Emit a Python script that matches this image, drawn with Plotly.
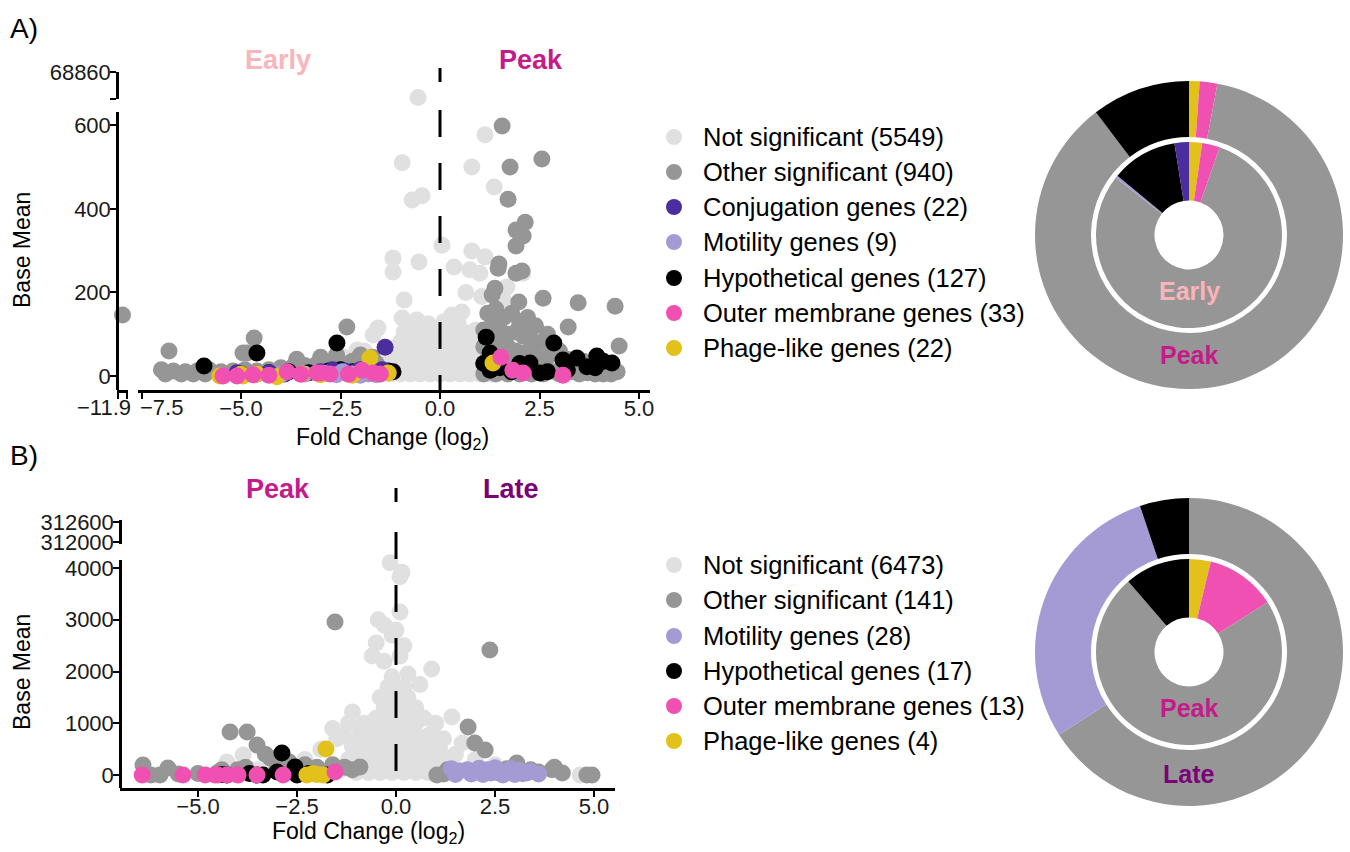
import plotly.graph_objects as go

W, H = 1350, 852
FONT = "Liberation Sans, Arial, sans-serif"

# ---------------- colours ----------------
C_NS = "#E0E0E0"
C_OTH = "#969696"
C_CONJ = "#4B2D9F"
C_MOT = "#A59BD4"
C_HYP = "#000000"
C_OM = "#F050B2"
C_PH = "#E2C11B"
C_EARLY = "#FBB4B9"
C_PEAK = "#C51B8A"
C_LATE = "#7A0177"

# ---------------- Panel A data (Early vs Peak) ----------------
A_ns_fc = [-1.5, -1.25, -1.0, -0.75, -0.5, -0.25, 0.0, 0.25, 0.5, 0.75, 1.0, 1.25,
           -1.6, -1.35, -1.1, -0.85, -0.6, -0.35, -0.1, 0.15, 0.4, 0.65, 0.9, 1.15,
           -1.4, -1.1, -0.8, -0.5, -0.2, 0.1, 0.4, 0.7, 1.0,
           -1.2, -0.9, -0.6, -0.3, 0.0, 0.3, 0.6, 0.9,
           -1.0, -0.7, -0.4, -0.1, 0.2, 0.5, 0.8,
           -0.9, -0.6, -0.3, 0.0, 0.3, 0.6, 0.9,
           -0.6, -0.3, 0.1, 0.45,
           -0.95, -0.58, -1.56, -1.68, 0.30, 0.55, -0.25, -2.08, -0.9, 0.75, 1.0,
           0.8, 1.13, 0.35, -0.53, -1.18, -1.18, 0.05, -0.70, -0.45, 1.36, -0.95,
           0.80, 1.13, 1.68, 2.08, 0.65, 1.05, 1.6, -1.8, -2.2, 1.4, -2.4, -1.9]
A_ns_bm = [5, 5, 5, 5, 5, 5, 5, 5, 5, 5, 5, 5,
           18, 18, 18, 18, 18, 18, 18, 18, 18, 18, 18, 18,
           30, 30, 30, 30, 30, 30, 30, 30, 30,
           55, 55, 55, 55, 55, 55, 55, 55,
           80, 80, 80, 80, 80, 80, 80,
           105, 105, 105, 105, 105, 105, 110,
           130, 125, 130, 130,
           139, 134, 115, 98, 146, 153, 117, 62, 182, 254, 246,
           299, 285, 261, 273, 282, 249, 313, 421, 431, 452, 510,
           500, 577, 213, 246, 200, 190, 180, 15, 25, 10, 45, 60]
A_ns_top_fc = [-0.55]
A_ns_top_bm = [68050]

A_oth_fc = [1.56, 1.76, 2.56, 1.71, 2.14, 1.91, 2.09, 1.91, 1.48, 1.46, 1.91, 2.06, 1.38, 1.31,
            1.98, 2.59, 3.47, 4.40, 3.22, 4.5, 2.26,
            1.2, 1.4, 1.6, 1.8, 2.0, 2.2, 2.4, 2.7,
            1.1, 1.3, 1.5, 1.7, 1.9, 2.1, 2.3, 2.5, 2.8, 3.0,
            1.1, 1.3, 1.5, 1.7, 1.9, 2.1, 2.4, 2.7, 3.2, 3.6, 4.0, 4.3,
            1.1, 1.3, 1.5, 1.7, 2.0, 2.3, 2.6, 2.9, 3.3, 3.7, 4.1, 4.45,
            1.1, 1.4, 1.7, 2.0, 2.3, 2.6, 3.0, 3.5, 3.9, 4.3,
            -2.34, -4.67, -4.95, -6.81, -4.85,
            -7.0, -6.7, -6.4, -6.1, -5.8, -5.5, -5.2, -4.9, -4.6, -4.3, -4.0, -3.7,
            -3.4, -3.1, -2.8, -2.5, -2.2, -1.9, -1.6, -1.7, -2.0, -6.9, -6.5, -6.2, -5.9,
            -3.6, -3.0, -2.6]
A_oth_bm = [598, 500, 519, 423, 368, 349, 335, 311, 268, 258, 246, 251, 210, 194,
            177, 186, 175, 167, 117, 72, 110,
            150, 160, 140, 150, 130, 140, 120, 100,
            110, 120, 110, 100, 105, 95, 85, 80, 70, 60,
            70, 80, 75, 70, 60, 55, 50, 45, 40, 35, 30, 20,
            30, 40, 35, 30, 25, 20, 15, 10, 10, 8, 5, 10,
            5, 5, 5, 5, 5, 5, 5, 5, 5, 5,
            117, 91, 55, 60, 55,
            15, 12, 10, 12, 15, 10, 12, 15, 12, 15, 20, 22,
            25, 28, 30, 32, 35, 38, 30, 45, 50, 5, 5, 5, 5,
            40, 45, 50]
A_oth_far_fc = [-11.9]
A_oth_far_bm = [146]

A_hyp_fc = [-2.59, -4.6, -5.93, -1.18, -5.0, -4.3, -3.8, -3.3, -2.8, -2.5, -2.2, -1.9, -1.5, -1.3,
            1.16, 1.26, 2.86, 3.94, 3.09, 3.44, 4.32, 2.26, 2.51, 1.26, 3.69, 1.5, 1.8, 2.0,
            2.7, 3.2, 4.1, 3.9, 1.1]
A_hyp_bm = [79, 55, 24, 10, 5, 8, 10, 8, 12, 15, 10, 12, 8, 12,
            93, 55, 79, 48, 38, 43, 31, 31, 7, 14, 22, 20, 10, 30,
            10, 15, 35, 20, 30]
A_conj_fc = [-1.38, -4.6, -4.3, -3.0, -2.7, -2.4, -2.2, -2.0, -1.75, -1.55, -1.45, -3.9, -5.1]
A_conj_bm = [69, 5, 8, 10, 15, 12, 8, 15, 12, 10, 15, 5, 8]
A_mot_fc = [-2.6, -2.45, -2.2, -3.4, -2.0, -1.8, -4.0, -2.9, -1.6]
A_mot_bm = [3, 10, 5, 5, 2, 5, 3, 6, 3]
A_ph_fc = [-5.53, -4.95, -4.6, -4.1, -3.47, -1.76, -1.3, -5.0, -3.0, -2.2, 1.33]
A_ph_bm = [0, 0, 5, -2, 5, 43, 7, 4, 3, 2, 31]
A_om_fc = [-5.45, -5.1, -3.84, -3.0, -1.96, -1.68, -1.5, -3.1, -2.76, -4.3, -4.7, -2.3, -3.5,
           1.53, 1.83, 2.09, 3.09]
A_om_bm = [0, 0, 10, 7, 14, 7, 5, 7, 5, 2, 3, 4, 4,
           45, 14, 7, 2]

# ---------------- Panel B data (Peak vs Late) ----------------
B_ns_fc = [-1.0, -0.7, -0.4, -0.1, 0.2, 0.5, 0.8, 1.1,
           -1.4, -1.1, -0.8, -0.5, -0.2, 0.1, 0.4, 0.7, 1.0, 1.3,
           -1.3, -0.9, -0.5, -0.2, 0.2, 0.6, 1.0, 1.3,
           -1.2, -0.9, -0.6, -0.3, 0.0, 0.3, 0.6, 0.9, 1.2,
           -0.7, -0.3, 0.1, 0.4, 0.8, -1.0, 1.1,
           -1.1, -0.8, -0.5, -0.2, 0.1, 0.4, 0.7, 1.0,
           -0.6, -0.2, 0.2, 0.6, -1.3, -0.7, -0.3, 0.1, 0.5, 0.8,
           -0.9, 0.9, -0.4, 0.0, 0.4, -0.8, 0.2, 0.5, 1.0,
           -0.5, -0.1, 0.3, 0.7, -0.3, 0.1, 0.5,
           -0.4, 0.0, 0.3, -0.2, 0.2, 0.6, -0.1, 0.3, 0.9,
           -0.3, 0.1, -0.5, -0.1, 0.2, -0.3, 0.0, 0.1, -0.15, 0.1, 0.15,
           -1.6, -1.5, -1.9, -2.3, -2.7, -3.1, -3.5, -4.27, -3.86, 1.41, 1.67, 1.5, 2.0,
           2.5, 3.0, 4.65, -6.09, 3.3, -1.2, 1.2, -0.45, -0.6, -1.1]
B_ns_bm = [50, 50, 50, 50, 50, 50, 50, 50,
           100, 100, 100, 100, 100, 100, 100, 100, 100, 100,
           150, 200, 200, 200, 200, 200, 200, 250,
           300, 300, 300, 300, 300, 300, 300, 300, 300,
           400, 400, 400, 400, 400, 450, 500,
           550, 550, 550, 550, 550, 550, 550, 550,
           650, 650, 650, 650, 750, 750, 750, 750, 750, 750,
           800, 800, 900, 900, 900, 1000, 1000, 1000, 1000,
           1100, 1100, 1100, 1100, 1300, 1300, 1300,
           1500, 1500, 1500, 1700, 1700, 1750, 1900, 1950, 2050,
           2200, 2300, 2550, 2700, 2500, 2900, 2800, 3150, 4100, 3830, 3920,
           900, 700, 500, 300, 200, 150, 100, 251, 386, 1121, 618, 400, 300,
           200, 150, 0, 0, 50, 1000, 700, 3000, 2300, 1220]
B_ns_top_fc = [0.0]
B_ns_top_bm = [312720]

B_oth_fc = [-6.39, -5.76, -5.96, -4.19, -3.76, -3.51, -3.18, -1.54, -0.91, -6.2, -5.5, -5.0,
            -4.5, -4.0, -3.0, -2.7, -2.3, -2.0, -1.6, -1.3, -1.1, -2.9, -3.3, -4.4, -3.8,
            1.82, 1.99, 2.25, 3.05, 3.94, 4.82, 1.03, 2.37, 1.2, 1.5, 2.0, 2.6, 3.2, 3.6,
            4.0, 4.2, 4.95, 1.3, 2.8, 3.4]
B_oth_bm = [193, 135, 0, 831, 831, 580, 329, 2956, 155, 0, 20, 30,
            50, 100, 150, 250, 200, 150, 200, 150, 100, 300, 400, 100, 150,
            928, 618, 483, 232, 100, 0, 0, 2415, 20, 30, 60, 40, 30, 60,
            150, 40, 0, 100, 120, 100]
B_mot_fc = [1.4, 1.6, 1.8, 2.0, 2.1, 2.3, 2.4, 2.5, 2.6, 2.8, 2.9, 3.1, 3.3, 3.4, 3.6,
            1.5, 1.9, 2.2, 2.7, 3.0]
B_mot_bm = [120, 80, 100, 60, 130, 100, 40, 140, 80, 60, 120, 90, 40, 70, 20,
            10, 20, 10, 0, 10]
B_hyp_fc = [-2.88, -2.55, -2.5, -3.36, -3.51, -4.27, -1.74, -3.7, -3.0, -4.4, -2.2, 2.05]
B_hyp_bm = [425, 155, 0, 0, 0, 0, 0, 30, 60, 10, 30, 90]
B_ph_fc = [-1.77, -2.25, -2.0, -1.84, -2.1]
B_ph_bm = [502, 0, 10, 0, 30]
B_om_fc = [-6.41, -5.38, -4.82, -4.57, -4.5, -4.27, -3.99, -3.51, -2.85, -1.54, -4.0]
B_om_bm = [0, 0, 0, 0, 0, 0, 0, 0, 0, 58, 5]

# ---------------- legends ----------------
A_legend_labels = ["Not significant (5549)", "Other significant (940)", "Conjugation genes (22)",
                   "Motility genes (9)", "Hypothetical genes (127)", "Outer membrane genes (33)",
                   "Phage-like genes (22)"]
A_legend_colors = [C_NS, C_OTH, C_CONJ, C_MOT, C_HYP, C_OM, C_PH]
B_legend_labels = ["Not significant (6473)", "Other significant (141)", "Motility genes (28)",
                   "Hypothetical genes (17)", "Outer membrane genes (13)", "Phage-like genes (4)"]
B_legend_colors = [C_NS, C_OTH, C_MOT, C_HYP, C_OM, C_PH]

# ---------------- donut data (clockwise from 12 o'clock) ----------------
A_early_cats = ["Phage-like", "Outer membrane", "Other significant", "Motility", "Hypothetical", "Conjugation"]
A_early_vals = [20, 27, 705, 4, 101, 22]
A_early_cols = [C_PH, C_OM, C_OTH, C_MOT, C_HYP, C_CONJ]
A_peak_cats = ["Phage-like", "Outer membrane", "Other significant", "Hypothetical"]
A_peak_vals = [3, 5, 235, 28]
A_peak_cols = [C_PH, C_OM, C_OTH, C_HYP]
B_peak_cats = ["Phage-like", "Outer membrane", "Other significant", "Hypothetical"]
B_peak_vals = [4, 13, 77, 12]
B_peak_cols = [C_PH, C_OM, C_OTH, C_HYP]
B_late_cats = ["Other significant", "Motility", "Hypothetical"]
B_late_vals = [64, 28, 5]
B_late_cols = [C_OTH, C_MOT, C_HYP]


def px(p):
    return p / W


def py(p):
    return 1 - p / H


fig = go.Figure()
MS = 17


def add_pts(xs, ys, color, xa, ya):
    fig.add_trace(go.Scatter(x=xs, y=ys, mode="markers", xaxis=xa, yaxis=ya,
                             marker=dict(color=color, size=MS, line=dict(width=0)),
                             cliponaxis=False, showlegend=False, hoverinfo="skip"))


# Panel A points
add_pts(A_ns_fc, A_ns_bm, C_NS, "x2", "y")
add_pts(A_ns_top_fc, A_ns_top_bm, C_NS, "x2", "y2")
add_pts(A_oth_fc, A_oth_bm, C_OTH, "x2", "y")
add_pts(A_oth_far_fc, A_oth_far_bm, C_OTH, "x", "y")
add_pts(A_hyp_fc, A_hyp_bm, C_HYP, "x2", "y")
add_pts(A_conj_fc, A_conj_bm, C_CONJ, "x2", "y")
add_pts(A_mot_fc, A_mot_bm, C_MOT, "x2", "y")
add_pts(A_ph_fc, A_ph_bm, C_PH, "x2", "y")
add_pts(A_om_fc, A_om_bm, C_OM, "x2", "y")

# Panel B points
add_pts(B_ns_fc, B_ns_bm, C_NS, "x3", "y3")
add_pts(B_ns_top_fc, B_ns_top_bm, C_NS, "x3", "y4")
add_pts(B_oth_fc, B_oth_bm, C_OTH, "x3", "y3")
add_pts(B_hyp_fc, B_hyp_bm, C_HYP, "x3", "y3")
add_pts(B_mot_fc, B_mot_bm, C_MOT, "x3", "y3")
add_pts(B_ph_fc, B_ph_bm, C_PH, "x3", "y3")
add_pts(B_om_fc, B_om_bm, C_OM, "x3", "y3")


# Donuts
def add_pie(cats, vals, cols, cx, cy, r, hole):
    fig.add_trace(go.Pie(labels=cats, values=vals, sort=False, direction="clockwise", rotation=0,
                         hole=hole, textinfo="none", hoverinfo="skip", showlegend=False,
                         marker=dict(colors=cols, line=dict(width=0)),
                         domain=dict(x=[px(cx - r), px(cx + r)], y=[py(cy + r), py(cy - r)])))


add_pie(A_peak_cats, A_peak_vals, A_peak_cols, 1189, 235, 154, 98 / 154)
add_pie(A_early_cats, A_early_vals, A_early_cols, 1189, 235, 93, 34.5 / 93)
add_pie(B_late_cats, B_late_vals, B_late_cols, 1189, 652, 154, 98 / 154)
add_pie(B_peak_cats, B_peak_vals, B_peak_cols, 1189, 652, 93, 34.5 / 93)

axis_common = dict(showgrid=False, zeroline=False, showline=True, linecolor="black", linewidth=2.5,
                   ticks="outside", ticklen=6, tickwidth=2, tickcolor="black", automargin=False,
                   tickfont=dict(family=FONT, size=22, color="#1a1a1a"), fixedrange=True)
xcommon = dict(axis_common, ticklabelstandoff=-9)
ycommon = dict(axis_common, ticklabelstandoff=-5)

fig.update_layout(
    template="none",
    width=W, height=H, autosize=False,
    margin=dict(l=0, r=0, t=0, b=0, pad=0, autoexpand=False),
    paper_bgcolor="white", plot_bgcolor="white", showlegend=False,
    font=dict(family=FONT, color="black"),
    xaxis=dict(domain=[px(117), px(128)], range=[-12.15, -11.65], anchor="y",
               tickvals=[-12.1, -11.7], ticktext=["", ""], **xcommon),
    xaxis2=dict(domain=[px(138), px(650)], range=[-7.588, 5.276], anchor="y",
                tickvals=[-7.5, -5.0, -2.5, 0.0, 2.5, 5.0],
                ticktext=["", "−5.0", "−2.5", "0.0", "2.5", "5.0"], **xcommon),
    yaxis=dict(domain=[py(390), py(112)], range=[-33.5, 631.6], anchor="free", position=px(117),
               tickvals=[0, 200, 400, 600], ticktext=["0", "200", "400", "600"], **ycommon),
    yaxis2=dict(domain=[py(99), py(72)], range=[68000, 68860], anchor="free", position=px(117),
                tickvals=[68000, 68860], ticktext=["", "68860"], **ycommon),
    xaxis3=dict(domain=[px(120), px(615)], range=[-6.97, 5.53], anchor="y3",
                tickvals=[-5.0, -2.5, 0.0, 2.5, 5.0],
                ticktext=["−5.0", "−2.5", "0.0", "2.5", "5.0"], **xcommon),
    yaxis3=dict(domain=[py(788), py(560)], range=[-251, 4155], anchor="free", position=px(120),
                tickvals=[0, 1000, 2000, 3000, 4000],
                ticktext=["0", "1000", "2000", "3000", "4000"], **ycommon),
    yaxis4=dict(domain=[py(544), py(520)], range=[311940, 312660], anchor="free", position=px(120),
                tickvals=[312000, 312600], ticktext=["312000", "312600"], **ycommon),
)

# dashed zero lines
fig.add_shape(type="line", xref="x2", yref="paper", x0=0, x1=0, y0=py(68), y1=py(390),
              line=dict(color="black", width=3, dash="14px,28px,27px,26px,27px,26px,27px,26px,27px,26px,27px,26px,27px"),
              layer="above")
fig.add_shape(type="line", xref="x3", yref="paper", x0=0, x1=0, y0=py(488), y1=py(788),
              line=dict(color="black", width=3, dash="14px,30px,27px,26px,27px,26px,27px,26px,27px,26px,27px,26px"),
              layer="above")

ann = []


def text(x, y, s, size, color="black", xanchor="center", angle=0):
    ann.append(dict(x=px(x), y=py(y), xref="paper", yref="paper", text=s, showarrow=False,
                    xanchor=xanchor, yanchor="middle", textangle=angle,
                    font=dict(family=FONT, size=size, color=color)))


# panel letters
text(24, 28, "A)", 28)
text(24, 456, "B)", 28)
# axis titles
text(22, 250, "Base Mean", 23, angle=-90)
text(22, 672, "Base Mean", 23, angle=-90)
text(392, 438, "Fold Change (log<sub>2</sub>)", 23)
text(368, 832, "Fold Change (log<sub>2</sub>)", 23)
# offset tick labels of the broken x-axis
text(104, 407, "−11.9", 22, color="#1a1a1a")
text(161, 407, "−7.5", 22, color="#1a1a1a")
# condition headers
text(278, 60, "<b>Early</b>", 27, C_EARLY)
text(531, 60, "<b>Peak</b>", 27, C_PEAK)
text(278, 489, "<b>Peak</b>", 27, C_PEAK)
text(511, 489, "<b>Late</b>", 27, C_LATE)
# donut labels
text(1189, 291, "<b>Early</b>", 25, C_EARLY)
text(1189, 355, "<b>Peak</b>", 25, C_PEAK)
text(1189, 708, "<b>Peak</b>", 25, C_PEAK)
text(1189, 774, "<b>Late</b>", 25, C_LATE)

# manual legends
shapes = []
A_rows = [137, 172, 207, 242, 278, 313, 348]
for lab, col, yy in zip(A_legend_labels, A_legend_colors, A_rows):
    shapes.append(dict(type="circle", xref="paper", yref="paper", x0=px(666), x1=px(682),
                       y0=py(yy + 8), y1=py(yy - 8), fillcolor=col, line=dict(width=0)))
    text(701, yy, lab, 25.5, xanchor="left")
B_rows = [565, 600, 636, 671, 706, 741]
for lab, col, yy in zip(B_legend_labels, B_legend_colors, B_rows):
    shapes.append(dict(type="circle", xref="paper", yref="paper", x0=px(666), x1=px(682),
                       y0=py(yy + 8), y1=py(yy - 8), fillcolor=col, line=dict(width=0)))
    text(701, yy, lab, 25.5, xanchor="left")

for s in shapes:
    fig.add_shape(**s)
fig.update_layout(annotations=ann)

fig.write_html("out.html", config={"displayModeBar": False},
               post_script="document.body.style.margin='0';document.body.style.overflow='hidden';")
